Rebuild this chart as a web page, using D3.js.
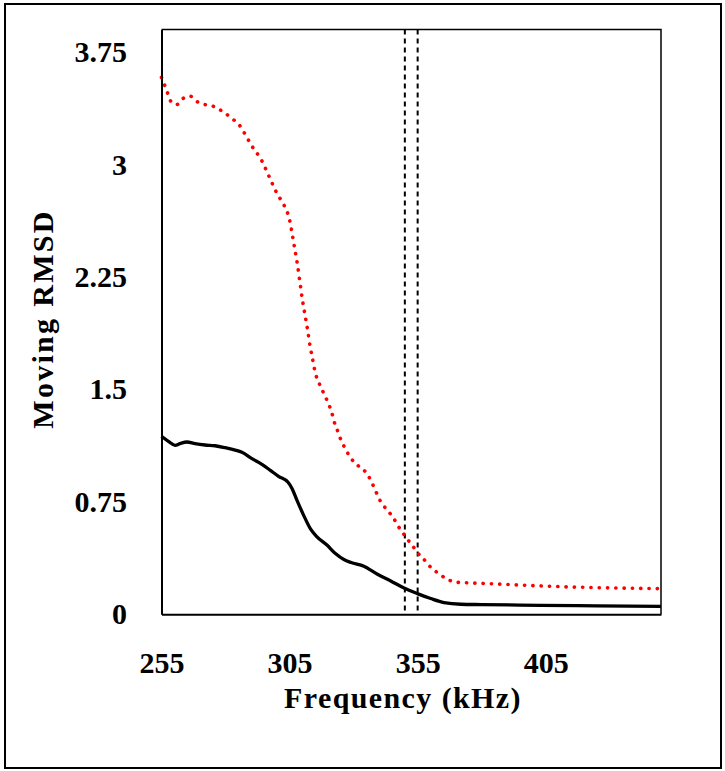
<!DOCTYPE html>
<html>
<head>
<meta charset="utf-8">
<script src="https://cdn.jsdelivr.net/npm/d3@7"></script>
<style>
    html, body { margin: 0; padding: 0; background: #fff; }
    svg { display: block; }
    text { font-family: "Liberation Serif", "Times New Roman", serif; font-weight: bold; fill: #000; }
</style>
</head>
<body>
<div id="chart"></div>
<script>
// Red dotted series
const redFreq = [255, 256.2, 257.4, 258.7, 261, 263.4, 266.2, 268.8, 271.8, 274.9, 277.8, 280.4, 283, 285.3, 287, 290.4,
    294, 297, 300, 302.6, 304, 305, 306, 307, 308, 309, 310, 311, 312, 313, 314, 315.2, 316.3, 317.6, 319, 320.3, 321.4,
    322.3, 323.4, 324.4, 325.7, 327.2, 329, 331.1, 333.5, 335.7, 337.1, 338.5, 339.8, 341.6, 343.5, 345.6, 347.1, 349,
    350.8, 352.9, 354.7, 356.9, 359, 361.4, 364, 366.7, 369.5, 373, 379, 395, 415, 434, 450];
const redRmsd = [3.58, 3.53, 3.475, 3.42, 3.40, 3.44, 3.455, 3.42, 3.40, 3.39, 3.365, 3.335, 3.30, 3.265, 3.22, 3.12,
    3.03, 2.92, 2.81, 2.735, 2.687, 2.63, 2.54, 2.44, 2.34, 2.22, 2.10, 2.0, 1.90, 1.79, 1.70, 1.60, 1.55, 1.50, 1.45, 1.40, 1.35,
    1.29, 1.24, 1.19, 1.14, 1.09, 1.04, 1.00, 0.97, 0.925, 0.878, 0.827, 0.775, 0.727, 0.687, 0.642, 0.595, 0.549,
    0.505, 0.46, 0.415, 0.378, 0.333, 0.295, 0.262, 0.233, 0.215, 0.211, 0.207, 0.195, 0.182, 0.175, 0.171];

// Black solid series
const blackFreq = [255, 257.7, 260.3, 262.2, 264.9, 268.1, 272, 275.9, 279.9, 283.8, 286.4, 290.3, 294.2, 297.5, 300.7,
    304.4, 306, 307.9, 310.5, 313.1, 315.5, 319.7, 322.9, 326.2, 329, 334, 339.3, 344.5, 349.7, 354.9, 360.1, 365.3,
    371.9, 380, 403, 425, 450];
const blackRmsd = [1.187, 1.153, 1.127, 1.138, 1.149, 1.138, 1.129, 1.124, 1.111, 1.095, 1.08, 1.038, 1.0, 0.96, 0.92,
    0.88, 0.838, 0.76, 0.66, 0.571, 0.52, 0.46, 0.405, 0.365, 0.345, 0.32, 0.267, 0.222, 0.175, 0.138, 0.105, 0.078,
    0.067, 0.065, 0.06, 0.056, 0.053];

const markerFreqs = [350, 355];
const xTicks = [255, 305, 355, 405];
const yTicks = [0, 0.75, 1.5, 2.25, 3, 3.75];

const width = 725, height = 771;
const plot = { left: 161.5, right: 661, top: 29.5, bottom: 614.3 };

const svg = d3.select("#chart")
    .append("svg")
    .attr("width", width)
    .attr("height", height);

// outer frame
svg.append("rect")
    .attr("x", 5).attr("y", 4)
    .attr("width", 716).attr("height", 764)
    .attr("fill", "none")
    .attr("stroke", "#000")
    .attr("stroke-width", 2);

const x = d3.scaleLinear().domain([255, 450]).range([plot.left, plot.right]);
const y = d3.scaleLinear().domain([0, 3.9]).range([plot.bottom, plot.top]);

// plot box (top and right edges)
svg.append("path")
    .attr("d", `M${plot.left},${plot.top}H${plot.right}V${plot.bottom}`)
    .attr("fill", "none")
    .attr("stroke", "#000")
    .attr("stroke-width", 1.5);

// dashed markers
svg.selectAll("line.marker")
    .data(markerFreqs)
    .enter()
    .append("line")
    .attr("class", "marker")
    .attr("x1", d => x(d)).attr("x2", d => x(d))
    .attr("y1", plot.top).attr("y2", plot.bottom)
    .attr("stroke", "#000")
    .attr("stroke-width", 2)
    .attr("stroke-dasharray", "5,4");

const line = d3.line()
    .x(d => x(d[0]))
    .y(d => y(d[1]))
    .curve(d3.curveMonotoneX);

svg.append("path")
    .datum(blackFreq.map((f, i) => [f, blackRmsd[i]]))
    .attr("d", line)
    .attr("fill", "none")
    .attr("stroke", "#000")
    .attr("stroke-width", 3.3)
    .attr("stroke-linejoin", "round");

svg.append("path")
    .datum(redFreq.map((f, i) => [f, redRmsd[i]]))
    .attr("d", line)
    .attr("fill", "none")
    .attr("stroke", "#ff0000")
    .attr("stroke-width", 3.6)
    .attr("stroke-linecap", "round")
    .attr("stroke-dasharray", "0.2,8.1");

// axes
const xAxis = svg.append("g")
    .attr("transform", `translate(0,${plot.bottom})`)
    .call(d3.axisBottom(x).tickValues(xTicks).tickSize(0).tickPadding(37).tickFormat(d3.format("d")));
const yAxis = svg.append("g")
    .attr("transform", `translate(${plot.left},0)`)
    .call(d3.axisLeft(y).tickValues(yTicks).tickSize(0).tickPadding(34.5).tickFormat(d => String(d)));

[xAxis, yAxis].forEach(g => {
    g.select(".domain").attr("stroke", "#000").attr("stroke-width", 2);
    g.selectAll("text")
        .style("font-family", "'Liberation Serif', serif")
        .style("font-weight", "bold")
        .style("font-size", "30px")
        .attr("fill", "#000");
});

// axis titles
svg.append("text")
    .attr("x", 403).attr("y", 708)
    .attr("text-anchor", "middle")
    .style("font-size", "30px")
    .style("letter-spacing", "1.4px")
    .text("Frequency (kHz)");

svg.append("text")
    .attr("transform", "translate(53,319) rotate(-90)")
    .attr("text-anchor", "middle")
    .style("font-size", "30px")
    .style("letter-spacing", "2.3px")
    .text("Moving RMSD");
</script>
</body>
</html>
